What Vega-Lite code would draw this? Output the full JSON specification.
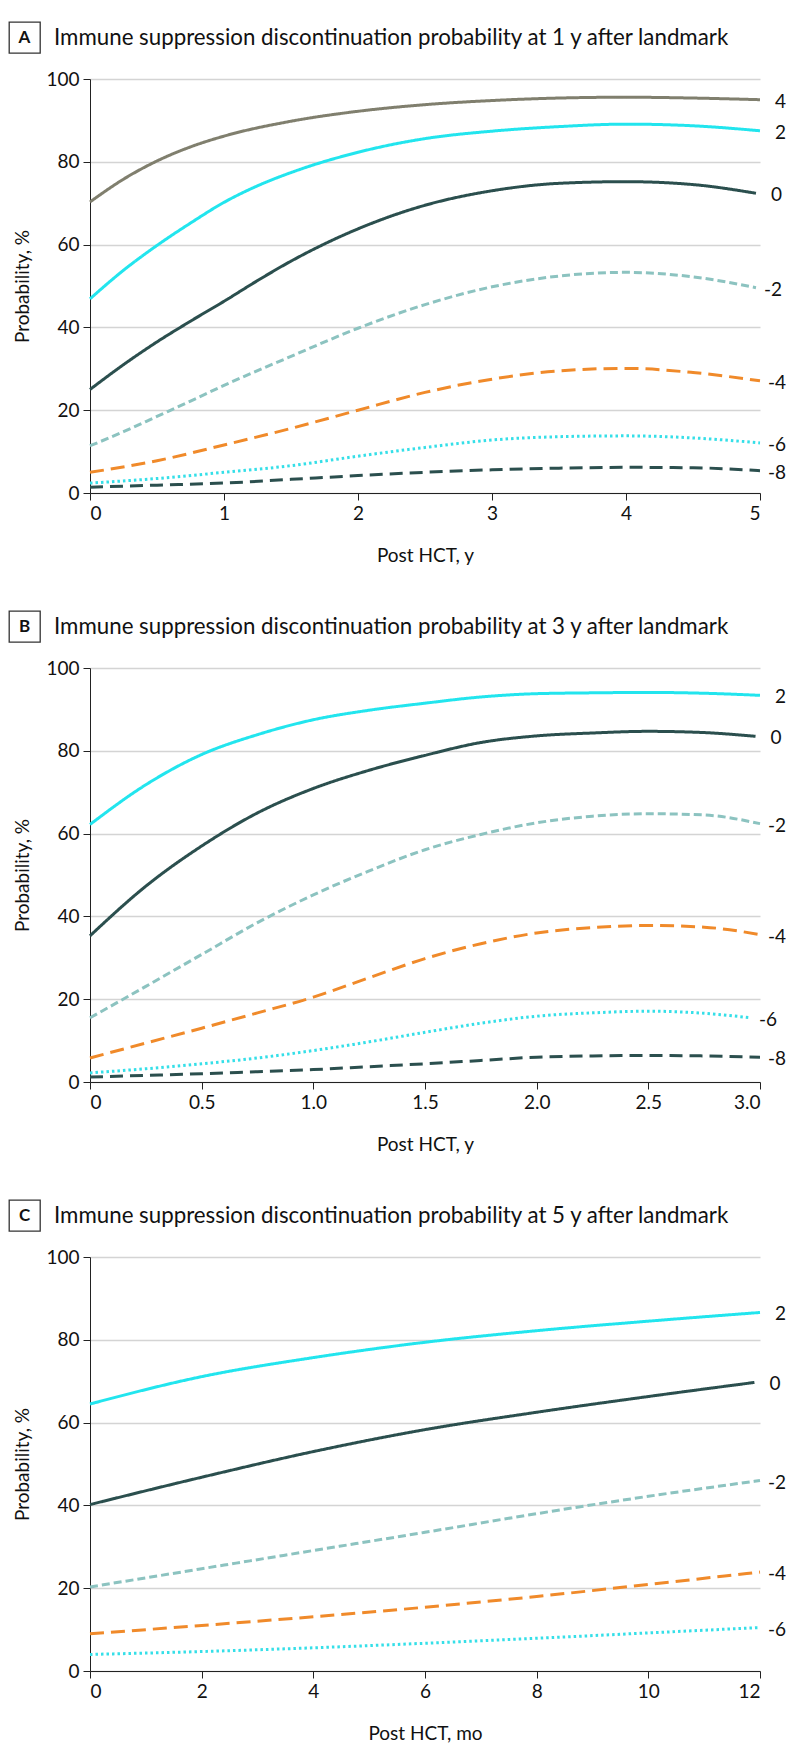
{
"$schema": "https://vega.github.io/schema/vega-lite/v6.json",
"padding": {"left": 8, "top": 21, "right": 0, "bottom": 0},
"background": "white",
"config": {
  "font": "Lato",
  "view": {"stroke": null},
  "axis": {"labelFont": "Lato", "labelFontSize": 19, "labelColor": "#111", "titleFont": "Lato", "titleFontSize": 19, "titleFontWeight": "normal", "titleColor": "#111", "domainColor": "#222", "tickColor": "#222", "tickSize": 7, "gridColor": "#d4d4d4", "gridWidth": 1.5, "labelPadding": 4},
  "line": {"strokeWidth": 3, "interpolate": "monotone"}
},
"datasets": {
"A": [
{"s":"4","x":0,"p":70.3},{"s":"4","x":0.25,"p":75.8},{"s":"4","x":0.5,"p":80.2},{"s":"4","x":0.75,"p":83.6},{"s":"4","x":1,"p":86.2},{"s":"4","x":1.5,"p":89.8},{"s":"4","x":2,"p":92.2},{"s":"4","x":2.5,"p":93.8},{"s":"4","x":3,"p":94.8},{"s":"4","x":3.5,"p":95.4},{"s":"4","x":4,"p":95.6},{"s":"4","x":4.5,"p":95.4},{"s":"4","x":5,"p":95.0},
{"s":"2","x":0,"p":46.9},{"s":"2","x":0.25,"p":53.8},{"s":"2","x":0.5,"p":59.8},{"s":"2","x":0.75,"p":65.2},{"s":"2","x":1,"p":70.2},{"s":"2","x":1.25,"p":74.2},{"s":"2","x":1.5,"p":77.4},{"s":"2","x":2,"p":82.3},{"s":"2","x":2.5,"p":85.6},{"s":"2","x":3,"p":87.4},{"s":"2","x":3.5,"p":88.5},{"s":"2","x":4,"p":89.1},{"s":"2","x":4.5,"p":88.7},{"s":"2","x":5,"p":87.5},
{"s":"0","x":0,"p":25.0},{"s":"0","x":0.25,"p":31.0},{"s":"0","x":0.5,"p":36.5},{"s":"0","x":0.75,"p":41.5},{"s":"0","x":1,"p":46.3},{"s":"0","x":1.25,"p":51.3},{"s":"0","x":1.5,"p":56.0},{"s":"0","x":2,"p":63.8},{"s":"0","x":2.5,"p":69.5},{"s":"0","x":3,"p":73.0},{"s":"0","x":3.5,"p":74.8},{"s":"0","x":4,"p":75.2},{"s":"0","x":4.5,"p":74.5},{"s":"0","x":4.97,"p":72.4},
{"s":"-2","x":0,"p":11.4},{"s":"-2","x":0.25,"p":14.8},{"s":"-2","x":0.5,"p":18.5},{"s":"-2","x":0.75,"p":22.2},{"s":"-2","x":1,"p":26.0},{"s":"-2","x":1.5,"p":33.0},{"s":"-2","x":2,"p":39.8},{"s":"-2","x":2.5,"p":45.5},{"s":"-2","x":3,"p":49.8},{"s":"-2","x":3.5,"p":52.4},{"s":"-2","x":4,"p":53.3},{"s":"-2","x":4.5,"p":52.2},{"s":"-2","x":4.97,"p":49.6},
{"s":"-4","x":0,"p":5.0},{"s":"-4","x":0.5,"p":7.8},{"s":"-4","x":1,"p":11.6},{"s":"-4","x":1.5,"p":15.6},{"s":"-4","x":2,"p":20.0},{"s":"-4","x":2.5,"p":24.3},{"s":"-4","x":3,"p":27.5},{"s":"-4","x":3.5,"p":29.5},{"s":"-4","x":4,"p":30.1},{"s":"-4","x":4.5,"p":29.1},{"s":"-4","x":5,"p":27.1},
{"s":"-6","x":0,"p":2.4},{"s":"-6","x":0.5,"p":3.5},{"s":"-6","x":1,"p":5.0},{"s":"-6","x":1.5,"p":6.6},{"s":"-6","x":2,"p":8.9},{"s":"-6","x":2.5,"p":11.0},{"s":"-6","x":3,"p":12.8},{"s":"-6","x":3.5,"p":13.6},{"s":"-6","x":4,"p":13.8},{"s":"-6","x":4.5,"p":13.3},{"s":"-6","x":5,"p":12.1},
{"s":"-8","x":0,"p":1.4},{"s":"-8","x":0.5,"p":1.9},{"s":"-8","x":1,"p":2.4},{"s":"-8","x":1.5,"p":3.3},{"s":"-8","x":2,"p":4.2},{"s":"-8","x":2.5,"p":5.0},{"s":"-8","x":3,"p":5.6},{"s":"-8","x":3.5,"p":6.0},{"s":"-8","x":4,"p":6.2},{"s":"-8","x":4.5,"p":6.1},{"s":"-8","x":5,"p":5.4}
],
"B": [
{"s":"2","x":0,"p":62.2},{"s":"2","x":0.25,"p":71.8},{"s":"2","x":0.5,"p":79.1},{"s":"2","x":0.75,"p":83.9},{"s":"2","x":1,"p":87.5},{"s":"2","x":1.25,"p":89.8},{"s":"2","x":1.5,"p":91.5},{"s":"2","x":1.75,"p":93.0},{"s":"2","x":2,"p":93.8},{"s":"2","x":2.25,"p":94.0},{"s":"2","x":2.5,"p":94.1},{"s":"2","x":2.75,"p":93.9},{"s":"2","x":3,"p":93.4},
{"s":"0","x":0,"p":35.3},{"s":"0","x":0.25,"p":47.3},{"s":"0","x":0.5,"p":57.0},{"s":"0","x":0.75,"p":65.0},{"s":"0","x":1,"p":70.9},{"s":"0","x":1.25,"p":75.3},{"s":"0","x":1.5,"p":78.9},{"s":"0","x":1.75,"p":82.0},{"s":"0","x":2,"p":83.6},{"s":"0","x":2.25,"p":84.3},{"s":"0","x":2.5,"p":84.7},{"s":"0","x":2.75,"p":84.4},{"s":"0","x":2.98,"p":83.5},
{"s":"-2","x":0,"p":15.5},{"s":"-2","x":0.25,"p":23.1},{"s":"-2","x":0.5,"p":30.8},{"s":"-2","x":0.75,"p":38.5},{"s":"-2","x":1,"p":45.2},{"s":"-2","x":1.25,"p":51.0},{"s":"-2","x":1.5,"p":56.1},{"s":"-2","x":1.75,"p":59.8},{"s":"-2","x":2,"p":62.6},{"s":"-2","x":2.25,"p":64.2},{"s":"-2","x":2.5,"p":64.8},{"s":"-2","x":2.75,"p":64.5},{"s":"-2","x":3,"p":62.4},
{"s":"-4","x":0,"p":5.8},{"s":"-4","x":0.25,"p":9.4},{"s":"-4","x":0.5,"p":13.0},{"s":"-4","x":0.75,"p":16.7},{"s":"-4","x":1,"p":20.5},{"s":"-4","x":1.25,"p":25.2},{"s":"-4","x":1.5,"p":29.8},{"s":"-4","x":1.75,"p":33.4},{"s":"-4","x":2,"p":36.0},{"s":"-4","x":2.25,"p":37.3},{"s":"-4","x":2.5,"p":37.8},{"s":"-4","x":2.75,"p":37.4},{"s":"-4","x":3,"p":35.6},
{"s":"-6","x":0,"p":2.2},{"s":"-6","x":0.25,"p":3.2},{"s":"-6","x":0.5,"p":4.4},{"s":"-6","x":0.75,"p":5.8},{"s":"-6","x":1,"p":7.6},{"s":"-6","x":1.25,"p":9.7},{"s":"-6","x":1.5,"p":12.0},{"s":"-6","x":1.75,"p":14.2},{"s":"-6","x":2,"p":15.9},{"s":"-6","x":2.25,"p":16.7},{"s":"-6","x":2.5,"p":17.1},{"s":"-6","x":2.75,"p":16.6},{"s":"-6","x":2.96,"p":15.5},
{"s":"-8","x":0,"p":1.2},{"s":"-8","x":0.25,"p":1.6},{"s":"-8","x":0.5,"p":2.0},{"s":"-8","x":0.75,"p":2.5},{"s":"-8","x":1,"p":3.0},{"s":"-8","x":1.25,"p":3.7},{"s":"-8","x":1.5,"p":4.4},{"s":"-8","x":1.75,"p":5.2},{"s":"-8","x":2,"p":6.0},{"s":"-8","x":2.25,"p":6.3},{"s":"-8","x":2.5,"p":6.4},{"s":"-8","x":2.75,"p":6.3},{"s":"-8","x":3,"p":6.0}
],
"C": [
{"s":"2","x":0,"p":64.5},{"s":"2","x":2,"p":71.1},{"s":"2","x":4,"p":75.7},{"s":"2","x":6,"p":79.4},{"s":"2","x":8,"p":82.2},{"s":"2","x":10,"p":84.5},{"s":"2","x":12,"p":86.6},
{"s":"0","x":0,"p":40.2},{"s":"0","x":2,"p":46.8},{"s":"0","x":4,"p":53.0},{"s":"0","x":6,"p":58.3},{"s":"0","x":8,"p":62.5},{"s":"0","x":10,"p":66.3},{"s":"0","x":11.9,"p":69.7},
{"s":"-2","x":0,"p":20.3},{"s":"-2","x":2,"p":24.7},{"s":"-2","x":4,"p":29.1},{"s":"-2","x":6,"p":33.5},{"s":"-2","x":8,"p":38.0},{"s":"-2","x":10,"p":42.2},{"s":"-2","x":12,"p":46.0},
{"s":"-4","x":0,"p":9.0},{"s":"-4","x":2,"p":11.0},{"s":"-4","x":4,"p":13.1},{"s":"-4","x":6,"p":15.4},{"s":"-4","x":8,"p":18.0},{"s":"-4","x":10,"p":20.9},{"s":"-4","x":12,"p":23.9},
{"s":"-6","x":0,"p":4.0},{"s":"-6","x":2,"p":4.7},{"s":"-6","x":4,"p":5.6},{"s":"-6","x":6,"p":6.7},{"s":"-6","x":8,"p":7.9},{"s":"-6","x":10,"p":9.2},{"s":"-6","x":12,"p":10.5}
]
},
"vconcat": [
 {"concat": [
   {"data": {"values": [{"t": "A"}]}, "width": 31, "height": 31, "view": {"stroke": "#333", "strokeWidth": 1.3},
    "mark": {"type": "text", "font": "Lato", "fontSize": 17, "fontWeight": "bold", "color": "#111"},
    "encoding": {"text": {"field": "t", "type": "nominal"}}},
   {"data": {"values": [{"t": "Immune suppression discontinuation probability at 1 y after landmark"}]}, "width": 640, "height": 31,
    "mark": {"type": "text", "align": "left", "baseline": "middle", "dx": -36, "font": "Lato", "fontSize": 22.3, "color": "#111"},
    "encoding": {"text": {"field": "t", "type": "nominal"}, "x": {"datum": 0, "type": "quantitative", "scale": {"domain": [0, 1]}, "axis": null}}},
   {"data": {"values": [{"t": ""}]}, "width": 1, "height": 1, "mark": {"type": "text"}, "encoding": {"text": {"field": "t", "type": "nominal"}}},
   {"data": {"name": "A"}, "width": 670, "height": 414,
    "encoding": {
      "x": {"field": "x", "type": "quantitative", "scale": {"domain": [0, 5], "nice": false}, "axis": {"values": [0,1,2,3,4,5], "title": "Post HCT, y", "grid": false, "titlePadding": 23}},
      "y": {"field": "p", "type": "quantitative", "scale": {"domain": [0, 100], "nice": false}, "axis": {"values": [0,20,40,60,80,100], "title": "Probability, %", "grid": true, "titlePadding": 13}}
    },
    "layer": [
     {"mark": {"type": "line"},
      "encoding": {
        "color": {"field": "s", "type": "nominal", "scale": {"domain": ["4","2","0","-2","-4","-6","-8"], "range": ["#807f6e","#22e5ee","#2b4f4e","#8cc3c0","#f08a2a","#35dfe8","#2b4f4e"]}, "legend": null},
        "strokeDash": {"field": "s", "type": "nominal", "scale": {"domain": ["4","2","0","-2","-4","-6","-8"], "range": [[1,0],[1,0],[1,0],[8,4],[14,7],[2.5,3],[13,7]]}, "legend": null}
      }},
     {"transform": [{"joinaggregate": [{"op": "max", "field": "x", "as": "xmax"}], "groupby": ["s"]}, {"filter": "datum.x === datum.xmax"}],
      "mark": {"type": "text", "align": "right", "dx": 26, "dy": 2, "fontSize": 19, "font": "Lato", "color": "#111"},
      "encoding": {"text": {"field": "s", "type": "nominal"}}}
    ]}
 ], "columns": 2, "align": "each", "spacing": {"row": 16, "column": -28}},
 {"concat": [
   {"data": {"values": [{"t": "B"}]}, "width": 31, "height": 31, "view": {"stroke": "#333", "strokeWidth": 1.3},
    "mark": {"type": "text", "font": "Lato", "fontSize": 17, "fontWeight": "bold", "color": "#111"},
    "encoding": {"text": {"field": "t", "type": "nominal"}}},
   {"data": {"values": [{"t": "Immune suppression discontinuation probability at 3 y after landmark"}]}, "width": 640, "height": 31,
    "mark": {"type": "text", "align": "left", "baseline": "middle", "dx": -36, "font": "Lato", "fontSize": 22.3, "color": "#111"},
    "encoding": {"text": {"field": "t", "type": "nominal"}, "x": {"datum": 0, "type": "quantitative", "scale": {"domain": [0, 1]}, "axis": null}}},
   {"data": {"values": [{"t": ""}]}, "width": 1, "height": 1, "mark": {"type": "text"}, "encoding": {"text": {"field": "t", "type": "nominal"}}},
   {"data": {"name": "B"}, "width": 670, "height": 414,
    "encoding": {
      "x": {"field": "x", "type": "quantitative", "scale": {"domain": [0, 3], "nice": false}, "axis": {"values": [0,0.5,1,1.5,2,2.5,3], "labelExpr": "datum.value === 0 ? '0' : format(datum.value, '.1f')", "title": "Post HCT, y", "grid": false, "titlePadding": 23}},
      "y": {"field": "p", "type": "quantitative", "scale": {"domain": [0, 100], "nice": false}, "axis": {"values": [0,20,40,60,80,100], "title": "Probability, %", "grid": true, "titlePadding": 13}}
    },
    "layer": [
     {"mark": {"type": "line"},
      "encoding": {
        "color": {"field": "s", "type": "nominal", "scale": {"domain": ["4","2","0","-2","-4","-6","-8"], "range": ["#807f6e","#22e5ee","#2b4f4e","#8cc3c0","#f08a2a","#35dfe8","#2b4f4e"]}, "legend": null},
        "strokeDash": {"field": "s", "type": "nominal", "scale": {"domain": ["4","2","0","-2","-4","-6","-8"], "range": [[1,0],[1,0],[1,0],[8,4],[14,7],[2.5,3],[13,7]]}, "legend": null}
      }},
     {"transform": [{"joinaggregate": [{"op": "max", "field": "x", "as": "xmax"}], "groupby": ["s"]}, {"filter": "datum.x === datum.xmax"}],
      "mark": {"type": "text", "align": "right", "dx": 26, "dy": 2, "fontSize": 19, "font": "Lato", "color": "#111"},
      "encoding": {"text": {"field": "s", "type": "nominal"}}}
    ]}
 ], "columns": 2, "align": "each", "spacing": {"row": 16, "column": -28}},
 {"concat": [
   {"data": {"values": [{"t": "C"}]}, "width": 31, "height": 31, "view": {"stroke": "#333", "strokeWidth": 1.3},
    "mark": {"type": "text", "font": "Lato", "fontSize": 17, "fontWeight": "bold", "color": "#111"},
    "encoding": {"text": {"field": "t", "type": "nominal"}}},
   {"data": {"values": [{"t": "Immune suppression discontinuation probability at 5 y after landmark"}]}, "width": 640, "height": 31,
    "mark": {"type": "text", "align": "left", "baseline": "middle", "dx": -36, "font": "Lato", "fontSize": 22.3, "color": "#111"},
    "encoding": {"text": {"field": "t", "type": "nominal"}, "x": {"datum": 0, "type": "quantitative", "scale": {"domain": [0, 1]}, "axis": null}}},
   {"data": {"values": [{"t": ""}]}, "width": 1, "height": 1, "mark": {"type": "text"}, "encoding": {"text": {"field": "t", "type": "nominal"}}},
   {"data": {"name": "C"}, "width": 670, "height": 414,
    "encoding": {
      "x": {"field": "x", "type": "quantitative", "scale": {"domain": [0, 12], "nice": false}, "axis": {"values": [0,2,4,6,8,10,12], "title": "Post HCT, mo", "grid": false, "titlePadding": 23}},
      "y": {"field": "p", "type": "quantitative", "scale": {"domain": [0, 100], "nice": false}, "axis": {"values": [0,20,40,60,80,100], "title": "Probability, %", "grid": true, "titlePadding": 13}}
    },
    "layer": [
     {"mark": {"type": "line"},
      "encoding": {
        "color": {"field": "s", "type": "nominal", "scale": {"domain": ["4","2","0","-2","-4","-6","-8"], "range": ["#807f6e","#22e5ee","#2b4f4e","#8cc3c0","#f08a2a","#35dfe8","#2b4f4e"]}, "legend": null},
        "strokeDash": {"field": "s", "type": "nominal", "scale": {"domain": ["4","2","0","-2","-4","-6","-8"], "range": [[1,0],[1,0],[1,0],[8,4],[14,7],[2.5,3],[13,7]]}, "legend": null}
      }},
     {"transform": [{"joinaggregate": [{"op": "max", "field": "x", "as": "xmax"}], "groupby": ["s"]}, {"filter": "datum.x === datum.xmax"}],
      "mark": {"type": "text", "align": "right", "dx": 26, "dy": 2, "fontSize": 19, "font": "Lato", "color": "#111"},
      "encoding": {"text": {"field": "s", "type": "nominal"}}}
    ]}
 ], "columns": 2, "align": "each", "spacing": {"row": 16, "column": -28}}
],
"spacing": 45
}
